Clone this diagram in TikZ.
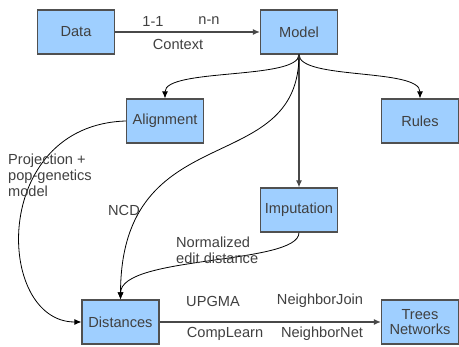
\documentclass[tikz,border=0pt]{standalone}
\usepackage{fontspec}
\setmainfont{Liberation Sans}
\usetikzlibrary{arrows.meta}
\definecolor{boxfill}{HTML}{9FCFFF}
\definecolor{boxline}{HTML}{505050}
\definecolor{txt}{HTML}{404040}
\begin{document}
\begin{tikzpicture}[x=1pt,y=-1pt,
  every node/.style={font=\fontsize{14.6}{15.5}\selectfont, text=txt},
  box/.style={draw=boxline, fill=boxfill, line width=1.2pt, minimum width=77pt, minimum height=44pt, inner sep=0pt, align=center},
  lbl/.style={inner sep=0pt, align=left},
  straight/.style={draw=boxline!90!black, line width=1.2pt, -{Latex[length=7pt,width=6pt]}},
  curved/.style={draw=black, line width=0.8pt, -{Latex[length=7pt,width=6pt]}}]
\useasboundingbox (0,0) rectangle (459,347);
\node[box] (data) at (76,32) {Data};
\node[box] (model) at (299,32) {Model};
\node[box] (align) at (165,121) {Alignment};
\node[box] (rules) at (420,121) {Rules};
\node[box] (imput) at (299,210) {Imputation};
\node[box] (dist) at (120.5,322) {Distances};
\node[box] (trees) at (420,322) {Trees\\[-1pt]Networks};

\draw[straight] (data.east) -- (model.west);
\node[lbl] (l11) at (153,21) {1-1};
\node[lbl] (lnn) at (209,21) {n-n};
\node[lbl] (lctx) at (178,44) {Context};

\draw[curved] (model.south) .. controls (299,80) and (165,68) .. (align.north);
\draw[curved] (model.south) .. controls (299,80) and (420,68) .. (rules.north);
\draw[straight] (model.south) -- (imput.north);
\draw[curved] (model.south) .. controls (299,180) and (121,115) .. (dist.north);
\draw[curved] (align.west) .. controls (-10,125) and (-5,322) .. (dist.west);
\draw[curved] (imput.south) .. controls (299,265) and (121,255) .. (dist.north);
\draw[straight] (dist.east) -- (trees.west);

\node[lbl, anchor=north west] (lproj) at (8,154) {Projection +\\[0.5pt]pop-genetics\\[0.5pt]model};
\node[lbl] (lncd) at (124,210) {NCD};
\node[lbl, anchor=north west] (lned) at (176,237) {Normalized\\[0pt]edit distance};
\node[lbl] (lup) at (213,301) {UPGMA};
\node[lbl] (lnj) at (320,301) {NeighborJoin};
\node[lbl] (lcl) at (225,334) {CompLearn};
\node[lbl] (lnn2) at (322,334) {NeighborNet};
\end{tikzpicture}
\end{document}
